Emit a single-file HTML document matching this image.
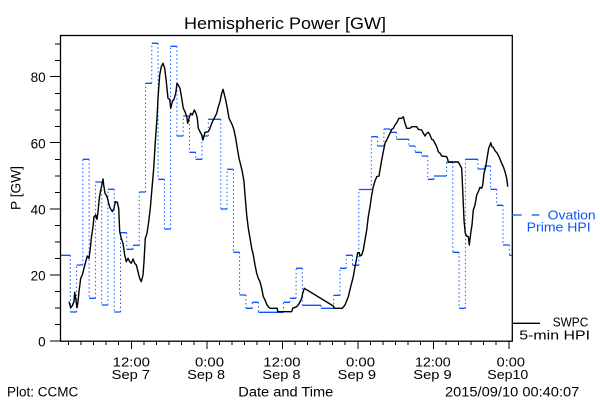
<!DOCTYPE html>
<html>
<head>
<meta charset="utf-8">
<style>
  html, body { margin: 0; padding: 0; background: #ffffff; }
  body { width: 600px; height: 400px; overflow: hidden; }
  svg { display: block; }
  text { font-family: "Liberation Sans", "DejaVu Sans", sans-serif; fill: #000; }
</style>
</head>
<body>
<svg width="600" height="400" viewBox="0 0 600 400" xmlns="http://www.w3.org/2000/svg">
  <rect x="0" y="0" width="600" height="400" fill="#ffffff"/>

  <!-- Title -->
  <text x="184" y="29" font-size="16.5" textLength="202" lengthAdjust="spacingAndGlyphs">Hemispheric Power [GW]</text>

  <!-- Y axis label -->
  <text transform="translate(20.5,210) rotate(-90)" x="0" y="0" font-size="14" textLength="44" lengthAdjust="spacingAndGlyphs">P [GW]</text>

  <!-- Y tick labels -->
  <g font-size="13.5" text-anchor="end">
    <text x="45.7" y="346.3">0</text>
    <text x="45.7" y="280.3">20</text>
    <text x="45.7" y="214.3">40</text>
    <text x="45.7" y="148.3">60</text>
    <text x="45.7" y="82">80</text>
  </g>

  <!-- Y ticks -->
  <g stroke="#000" stroke-width="1" shape-rendering="crispEdges">
    <line x1="50" y1="341" x2="60" y2="341"/>
    <line x1="55" y1="324.5" x2="60" y2="324.5"/>
    <line x1="55" y1="308" x2="60" y2="308"/>
    <line x1="55" y1="291.5" x2="60" y2="291.5"/>
    <line x1="50" y1="275" x2="60" y2="275"/>
    <line x1="55" y1="258.5" x2="60" y2="258.5"/>
    <line x1="55" y1="242" x2="60" y2="242"/>
    <line x1="55" y1="225.5" x2="60" y2="225.5"/>
    <line x1="50" y1="209" x2="60" y2="209"/>
    <line x1="55" y1="192.5" x2="60" y2="192.5"/>
    <line x1="55" y1="176" x2="60" y2="176"/>
    <line x1="55" y1="159.5" x2="60" y2="159.5"/>
    <line x1="50" y1="142.5" x2="60" y2="142.5"/>
    <line x1="55" y1="126.5" x2="60" y2="126.5"/>
    <line x1="55" y1="110" x2="60" y2="110"/>
    <line x1="55" y1="93.5" x2="60" y2="93.5"/>
    <line x1="50" y1="76.5" x2="60" y2="76.5"/>
    <line x1="55" y1="60.5" x2="60" y2="60.5"/>
    <line x1="55" y1="44" x2="60" y2="44"/>
  </g>

  <!-- X ticks -->
  <g stroke="#000" stroke-width="1" shape-rendering="crispEdges">
    <line x1="68.4" y1="341" x2="68.4" y2="345"/>
    <line x1="81" y1="341" x2="81" y2="345"/>
    <line x1="93.6" y1="341" x2="93.6" y2="345"/>
    <line x1="106.1" y1="341" x2="106.1" y2="345"/>
    <line x1="118.7" y1="341" x2="118.7" y2="345"/>
    <line x1="131.3" y1="341" x2="131.3" y2="349"/>
    <line x1="143.9" y1="341" x2="143.9" y2="345"/>
    <line x1="156.5" y1="341" x2="156.5" y2="345"/>
    <line x1="169" y1="341" x2="169" y2="345"/>
    <line x1="181.6" y1="341" x2="181.6" y2="345"/>
    <line x1="194.2" y1="341" x2="194.2" y2="345"/>
    <line x1="206.8" y1="341" x2="206.8" y2="349"/>
    <line x1="219.4" y1="341" x2="219.4" y2="345"/>
    <line x1="232" y1="341" x2="232" y2="345"/>
    <line x1="244.5" y1="341" x2="244.5" y2="345"/>
    <line x1="257.1" y1="341" x2="257.1" y2="345"/>
    <line x1="269.7" y1="341" x2="269.7" y2="345"/>
    <line x1="282.3" y1="341" x2="282.3" y2="349"/>
    <line x1="294.9" y1="341" x2="294.9" y2="345"/>
    <line x1="307.5" y1="341" x2="307.5" y2="345"/>
    <line x1="320" y1="341" x2="320" y2="345"/>
    <line x1="332.6" y1="341" x2="332.6" y2="345"/>
    <line x1="345.2" y1="341" x2="345.2" y2="345"/>
    <line x1="357.8" y1="341" x2="357.8" y2="349"/>
    <line x1="370.4" y1="341" x2="370.4" y2="345"/>
    <line x1="383" y1="341" x2="383" y2="345"/>
    <line x1="395.5" y1="341" x2="395.5" y2="345"/>
    <line x1="408.1" y1="341" x2="408.1" y2="345"/>
    <line x1="420.7" y1="341" x2="420.7" y2="345"/>
    <line x1="433.3" y1="341" x2="433.3" y2="349"/>
    <line x1="445.9" y1="341" x2="445.9" y2="345"/>
    <line x1="458.5" y1="341" x2="458.5" y2="345"/>
    <line x1="471" y1="341" x2="471" y2="345"/>
    <line x1="483.6" y1="341" x2="483.6" y2="345"/>
    <line x1="496.2" y1="341" x2="496.2" y2="345"/>
    <line x1="508.8" y1="341" x2="508.8" y2="349"/>
  </g>

  <!-- X tick labels -->
  <g font-size="13" lengthAdjust="spacingAndGlyphs">
    <text x="112.7" y="366.7" textLength="37.3" lengthAdjust="spacingAndGlyphs">12:00</text>
    <text x="111.7" y="379" textLength="38.3" lengthAdjust="spacingAndGlyphs">Sep 7</text>
    <text x="195" y="366.7" textLength="29" lengthAdjust="spacingAndGlyphs">0:00</text>
    <text x="187.3" y="379" textLength="37.7" lengthAdjust="spacingAndGlyphs">Sep 8</text>
    <text x="263.3" y="366.7" textLength="37.3" lengthAdjust="spacingAndGlyphs">12:00</text>
    <text x="262.3" y="379" textLength="38.3" lengthAdjust="spacingAndGlyphs">Sep 8</text>
    <text x="346" y="366.7" textLength="29" lengthAdjust="spacingAndGlyphs">0:00</text>
    <text x="337.7" y="379" textLength="38.3" lengthAdjust="spacingAndGlyphs">Sep 9</text>
    <text x="415" y="366.7" textLength="35.7" lengthAdjust="spacingAndGlyphs">12:00</text>
    <text x="413.3" y="379" textLength="38.4" lengthAdjust="spacingAndGlyphs">Sep 9</text>
    <text x="496.7" y="366.7" textLength="28.3" lengthAdjust="spacingAndGlyphs">0:00</text>
    <text x="487.3" y="379" textLength="41" lengthAdjust="spacingAndGlyphs">Sep10</text>
  </g>

  <!-- Footer texts -->
  <g font-size="13.5">
    <text x="7" y="396.7" textLength="71.3" lengthAdjust="spacingAndGlyphs">Plot: CCMC</text>
    <text x="238.3" y="396.7" textLength="95" lengthAdjust="spacingAndGlyphs">Date and Time</text>
    <text x="445" y="396.7" textLength="134.3" lengthAdjust="spacingAndGlyphs">2015/09/10 00:40:07</text>
  </g>

  <!-- Ovation Prime HPI: dotted verticals -->
  <path fill="none" stroke="#0a55ff" stroke-width="1" stroke-dasharray="1.4 2.6"
    d="M70.3 255.3V312 M76.6 312V265 M82.8 265V159.3 M89.1 159.3V298.3 M95.4 298.3V182 M101.7 182V305 M107.9 305V189.3 M114.2 189.3V312 M120.5 312V232.7 M126.7 232.7V249.3 M133 249.3V245.3 M139.3 245.3V192 M145.6 192V83.3 M151.8 83.3V43.3 M158.1 43.3V179.3 M164.4 179.3V229 M170.6 229V46.3 M176.9 46.3V136 M183.2 136V116 M189.5 116V152.3 M195.7 152.3V159.3 M202 159.3V136 M208.3 136V119.3 M220.8 119.3V209 M227.1 209V169.3 M233.4 169.3V252.3 M239.6 252.3V295 M245.9 295V308.3 M252.2 308.3V302.3 M258.4 302.3V312.3 M283.5 312.3V302.3 M289.8 302.3V298.3 M296.1 298.3V268.3 M302.3 268.3V305.3 M321.1 305.3V308.3 M333.7 308.3V295.3 M340 295.3V268.3 M346.2 268.3V255.3 M352.5 255.3V265.3 M358.8 265.3V189.5 M371.3 189.5V136.7 M377.6 136.7V146 M383.9 146V129 M390.1 129V132.3 M396.4 132.3V139.3 M408.9 139.3V146 M415.2 146V152.3 M421.5 152.3V156 M427.8 156V179.3 M434 179.3V176 M446.6 176V162.3 M452.8 162.3V252.3 M459.1 252.3V308.3 M465.4 308.3V159.3 M477.9 159.3V169 M484.2 169V166 M490.5 166V189.3 M496.7 189.3V205.3 M503 205.3V245 M509.3 245V255.3"/>

  <!-- Ovation Prime HPI: solid horizontal steps -->
  <path fill="none" stroke="#0a55ff" stroke-width="1.3"
    d="M60.5 255.3H70.3 M70.3 312H76.6 M76.6 265H82.8 M82.8 159.3H89.1 M89.1 298.3H95.4 M95.4 182H101.7 M101.7 305H107.9 M107.9 189.3H114.2 M114.2 312H120.5 M120.5 232.7H126.7 M126.7 249.3H133 M133 245.3H139.3 M139.3 192H145.6 M145.6 83.3H151.8 M151.8 43.3H158.1 M158.1 179.3H164.4 M164.4 229H170.6 M170.6 46.3H176.9 M176.9 136H183.2 M183.2 116H189.5 M189.5 152.3H195.7 M195.7 159.3H202 M202 136H208.3 M208.3 119.3H220.8 M220.8 209H227.1 M227.1 169.3H233.4 M233.4 252.3H239.6 M239.6 295H245.9 M245.9 308.3H252.2 M252.2 302.3H258.4 M258.4 312.3H283.5 M283.5 302.3H289.8 M289.8 298.3H296.1 M296.1 268.3H302.3 M302.3 305.3H321.1 M321.1 308.3H333.7 M333.7 295.3H340 M340 268.3H346.2 M346.2 255.3H352.5 M352.5 265.3H358.8 M358.8 189.5H371.3 M371.3 136.7H377.6 M377.6 146H383.9 M383.9 129H390.1 M390.1 132.3H396.4 M396.4 139.3H408.9 M408.9 146H415.2 M415.2 152.3H421.5 M421.5 156H427.8 M427.8 179.3H434 M434 176H446.6 M446.6 162.3H452.8 M452.8 252.3H459.1 M459.1 308.3H465.4 M465.4 159.3H477.9 M477.9 169H484.2 M484.2 166H490.5 M490.5 189.3H496.7 M496.7 205.3H503 M503 245H509.3 M509.3 255.3H511.5"/>

  <!-- SWPC 5-min HPI -->
  <polyline fill="none" stroke="#000" stroke-width="1.4" stroke-linejoin="round"
    points="69,301.7 70.7,307.7 72.3,305.7 74,301.7 74.7,292.3 75.7,298.3 77,307.7 78,301.7 79,291.7 80.7,278.3 82.3,275 84,268.3 85.7,261.7 87.3,256 89,258.3 90.3,248.3 91.3,238.3 93,226.7 94,216.7 95.7,215 97,219.3 98,211.7 99.3,198.3 100.7,190 102,184.3 103,179 103.7,185 105,193.3 106.7,196 108,200 109,205 110.3,208.3 112.3,211.7 114,208.3 115.3,201.7 117.3,202.3 118.7,208.3 119.7,231.7 121.3,238.3 123,243.3 124.7,255 126.3,261.7 128,258.3 129.7,261.7 131.3,263.3 133,259 134.7,263.3 136.3,265 138,271.7 139.7,278.3 141.3,281.7 143,275 144,261.7 145.3,238.3 147,233.3 148.7,221.7 150.3,208.3 152,188.3 153.7,168.3 155.3,141.7 157,118.3 158,98.3 159.7,75 161.3,66.7 163,63.3 164.7,68.3 166.3,81.7 168,98.3 169.7,99.3 170.7,108.3 172.3,101.7 174,99.3 175.7,93.3 177,83.3 178.3,85 180,88.3 181.7,98.3 183.3,108.3 185,111.7 186.7,116.7 187.7,123.3 189,118.3 190.7,113.3 192.3,115 194.3,110 196,113.3 197.3,118.3 198.3,128.3 200,131.7 201.7,135 203,140 204.3,135 205,132.3 208.3,131.7 210,128.3 211.7,123.3 213.3,120 215,116.7 216.7,113.3 218.3,106.7 220,101.7 221.7,93.3 223,89.3 224.3,94.3 225.7,100 227.3,108.3 229,118.3 230.7,121.7 232.3,125 234,130 235.7,138.3 237.3,148.3 239,158.3 240.7,165 242.3,171.7 244,181.7 245,195 246.7,215 248.3,228.3 250,238.3 251.7,248.3 253.3,255 255,265 256.7,273.3 258.3,278.3 260,281.7 261.7,288.3 263.3,296.7 265,300 266.7,304.3 268.3,306.7 270,308.3 277.3,308.3 277.7,311.7 291.7,311.7 292.7,308.3 296.7,306.7 299.3,303.3 301.7,298.3 302.7,293.3 304.3,288.3 333.3,306 334.3,308.3 342.3,308.3 345,305 348.3,296.7 350.7,286.7 353.3,276.7 355,266.7 356.7,258.3 357.7,252.7 359.3,252.7 360,256 361.7,255 363.3,250 365,240 366.7,230 368.3,216.7 370,206.7 371.7,195 373.3,186.7 375,181 376.7,176.7 379,176 380,170 381.7,160 383.3,151.7 385,143.3 386.7,140 388.3,136.7 390,133.3 391.7,129.3 393.3,128.3 395,125 396.7,122.7 399,118.3 401.7,118.3 403.3,116.7 405,123.3 406.7,128.3 410,128.3 411.7,126.7 416.7,126.7 418.3,129.3 421.7,130 423.3,133.3 425,136 426.7,133.3 428.3,132.3 430,135 431.7,139.3 433.3,140 435,143.3 436.7,146.7 438.3,151.7 440,153.3 441.7,156 446.7,156.7 447.7,159.3 448.3,162 458.3,162 460,165 461.7,168.3 462.7,190 464,220 465.3,233.3 466.7,236 468.3,236.7 469.3,245 470.7,233.3 472,225 473.3,210 475,205 476.7,195 478.3,191.7 480,187.3 481.7,188.3 482.7,185 484,173.3 485.7,166.7 487.3,156.7 488.7,148.3 490,145 490.7,142.7 492,146.7 493.3,147.3 495,150.7 497.3,153.3 499.3,157.3 501,161.7 503.3,166.7 505,171.7 506.7,178.3 507.7,186.7"/>

  <!-- Frame -->
  <rect x="60.5" y="35.5" width="451.8" height="305.7" fill="none" stroke="#000" stroke-width="1.3"/>

  <!-- Legend: Ovation -->
  <line x1="512" y1="215" x2="521.7" y2="215" stroke="#0a55ff" stroke-width="1.3"/>
  <line x1="531.7" y1="215" x2="539.3" y2="215" stroke="#0a55ff" stroke-width="1.3"/>
  <text x="547.7" y="219.3" font-size="13" fill="#0a55ff" style="fill:#0a55ff" textLength="48" lengthAdjust="spacingAndGlyphs">Ovation</text>
  <text x="526.7" y="231.7" font-size="13" fill="#0a55ff" style="fill:#0a55ff" textLength="64" lengthAdjust="spacingAndGlyphs">Prime HPI</text>

  <!-- Legend: SWPC -->
  <line x1="512" y1="323.3" x2="540" y2="323.3" stroke="#000" stroke-width="1.3"/>
  <text x="552.7" y="326.7" font-size="13" textLength="35.6" lengthAdjust="spacingAndGlyphs">SWPC</text>
  <text x="519.3" y="339.3" font-size="13" textLength="70.7" lengthAdjust="spacingAndGlyphs">5-min HPI</text>
</svg>
</body>
</html>
